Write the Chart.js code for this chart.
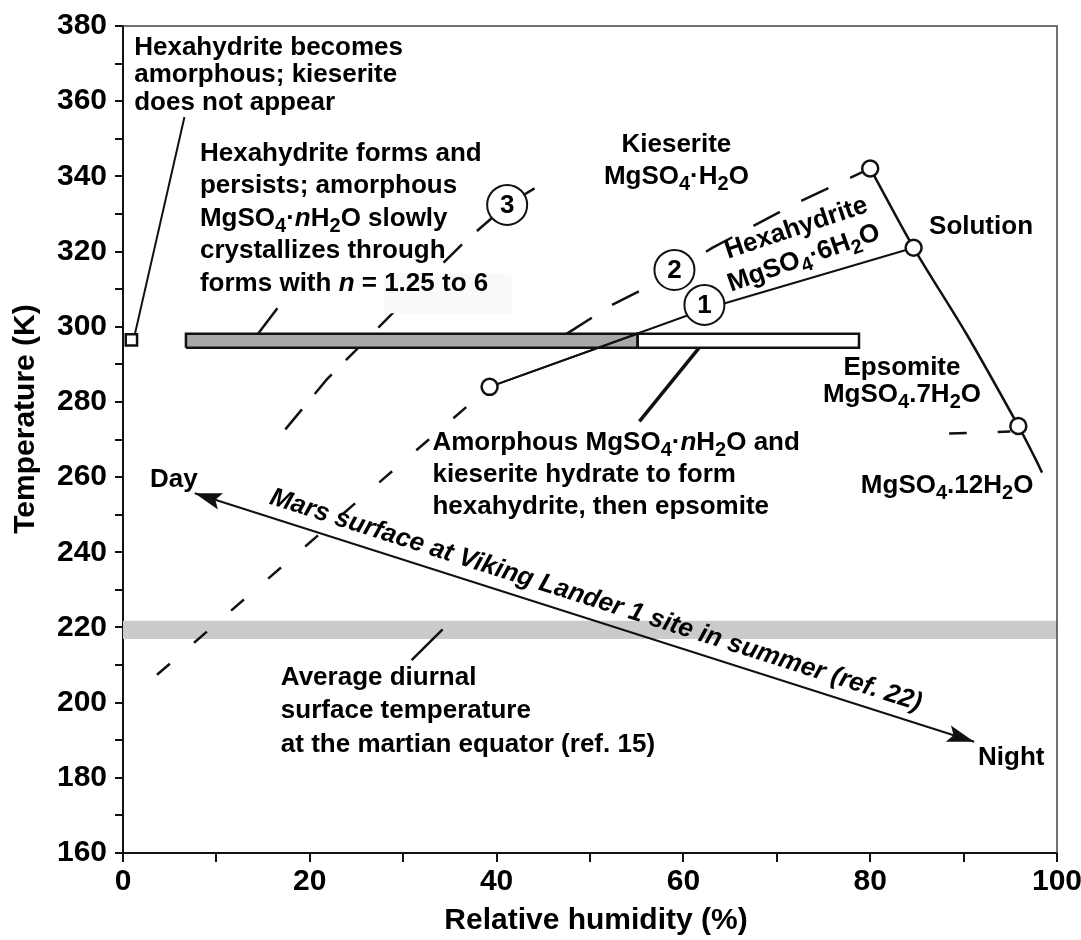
<!DOCTYPE html>
<html>
<head>
<meta charset="utf-8">
<script src="https://cdn.jsdelivr.net/npm/chart.js@4.4.1/dist/chart.umd.min.js"></script>
<style>
  html, body { margin: 0; padding: 0; background: #fff; }
  #wrap { width: 1081px; height: 940px; }
</style>
</head>
<body>
<div id="wrap"><canvas id="chart"></canvas></div>
<script>
// Graduations
const xTicks = [0, 20, 40, 60, 80, 100];
const yTicks = [160, 180, 200, 220, 240, 260, 280, 300, 320, 340, 360, 380];

// Points (humidité relative %, température K)
const squareSample = [{x: 0.9, y: 296.5}];
const phasePoints = [{x: 39.25, y: 284.0}, {x: 80.0, y: 342.1}, {x: 84.65, y: 321.0}, {x: 95.86, y: 273.6}];
const pathMarks = [{x: 62.25, y: 305.8}, {x: 59.04, y: 315.1}, {x: 41.13, y: 332.4}];
const pathNames = ['1', '2', '3'];

const solutionCurve = [{x: 80.0, y: 342.1}, {x: 84.65, y: 321.0}, {x: 90.37, y: 297.8}, {x: 95.86, y: 273.6}, {x: 97.6, y: 265.3}, {x: 98.4, y: 261.2}];
const hexaEpsoLine = [{x: 39.25, y: 284.0}, {x: 62.35, y: 304.7}, {x: 84.65, y: 321.0}];
const kieseriteLine = [{x: 39.25, y: 284.0}, {x: 55.08, y: 298.1}];
const path1Dashed = [{x: 3.64, y: 207.4}, {x: 39.25, y: 284.0}];
const path2Dashed = [{x: 47.49, y: 298.1}, {x: 52.34, y: 305.8}, {x: 56.95, y: 311.6}, {x: 63.04, y: 320.9}, {x: 72.09, y: 332.9}, {x: 80.0, y: 342.1}];
const path3Dashed = [{x: 17.38, y: 272.7}, {x: 21.82, y: 286.0}, {x: 25.03, y: 294.0}, {x: 28.66, y: 303.1}, {x: 36.79, y: 323.1}, {x: 41.13, y: 332.4}, {x: 44.71, y: 337.8}];
const dodecaDashed = [{x: 88.45, y: 271.6}, {x: 95.0, y: 272.1}];
const vikingArrow = [{x: 7.68, y: 255.7}, {x: 91.13, y: 189.6}];

const squareLeader = [{x: 1.28, y: 298.1}, {x: 6.58, y: 355.8}];
const persistLeader = [{x: 13.95, y: 296.5}, {x: 16.53, y: 304.9}];
const amorphLeader = [{x: 55.29, y: 274.8}, {x: 61.74, y: 294.6}];
const equatorLeader = [{x: 30.9, y: 211.3}, {x: 34.22, y: 219.5}];

const barY = [294.4, 298.1];
const grayBarX = [6.74, 55.1];
const whiteBarX = [55.1, 78.8];
const equatorBandY = [216.9, 221.8];
const fadedBoxX = [27.9, 41.6];
const fadedBoxY = [303.6, 314.3];

const FONT = '"Liberation Sans", Arial, sans-serif';
const NOTE_SIZE = 26;

function line(data, extra) {
  return Object.assign({
    data: data, showLine: true, pointRadius: 0, borderColor: '#111',
    borderWidth: 2.5, fill: false, tension: 0, order: 5
  }, extra);
}
function rectFill(xs, ys, color, order) {
  return line([{x: xs[0], y: ys[1]}, {x: xs[1], y: ys[1]}],
    {fill: {value: ys[0]}, backgroundColor: color, borderWidth: 0, order: order});
}
function rectEdge(xs, ys, order) {
  return line([{x: xs[0], y: ys[0]}, {x: xs[1], y: ys[0]}, {x: xs[1], y: ys[1]}, {x: xs[0], y: ys[1]}, {x: xs[0], y: ys[0]}],
    {borderWidth: 2.5, order: order, borderJoinStyle: 'miter'});
}

// Texte avec indices (_4) et italique (*n*)
function segments(str) {
  const segs = [];
  let it = false;
  for (let i = 0; i < str.length; i++) {
    const c = str[i];
    if (c === '*') { it = !it; continue; }
    if (c === '_') { segs.push({t: str[i + 1], sub: true, it: it}); i++; continue; }
    const last = segs[segs.length - 1];
    if (last && !last.sub && last.it === it) last.t += c;
    else segs.push({t: c, sub: false, it: it});
  }
  return segs;
}
function fontFor(s, size) {
  return (s.it ? 'italic ' : '') + 'bold ' + (s.sub ? Math.round(size * 0.75) : size) + 'px ' + FONT;
}
function drawRich(ctx, str, x, y, size, align) {
  const segs = segments(str);
  let w = 0;
  segs.forEach(s => { ctx.font = fontFor(s, size); s.w = ctx.measureText(s.t).width; w += s.w; });
  let cx = align === 'center' ? x - w / 2 : x;
  ctx.textAlign = 'left';
  ctx.textBaseline = 'middle';
  segs.forEach(s => {
    ctx.font = fontFor(s, size);
    ctx.fillText(s.t, cx, y + (s.sub ? size * 0.3 : 0));
    cx += s.w;
  });
}

const notes = [
  {x: 1.2, y: 374.2, lh: 27.5, lines: ['Hexahydrite becomes', 'amorphous; kieserite', 'does not appear']},
  {x: 8.24, y: 346.0, lh: 32.5, lines: ['Hexahydrite forms and', 'persists; amorphous', 'MgSO_4·*n*H_2O slowly', 'crystallizes through', 'forms with *n* = 1.25 to 6']},
  {x: 59.25, y: 348.3, lh: 32, align: 'center', lines: ['Kieserite', 'MgSO_4·H_2O']},
  {x: 86.3, y: 326.5, lines: ['Solution']},
  {x: 83.4, y: 289.0, lh: 27, align: 'center', lines: ['Epsomite', 'MgSO_4.7H_2O']},
  {x: 79.0, y: 257.6, lines: ['MgSO_4.12H_2O']},
  {x: 33.13, y: 269.1, lh: 32, lines: ['Amorphous MgSO_4·*n*H_2O and', 'kieserite hydrate to form', 'hexahydrite, then epsomite']},
  {x: 16.9, y: 206.6, lh: 33.5, lines: ['Average diurnal', 'surface temperature', 'at the martian equator (ref. 15)']},
  {x: 2.89, y: 259.2, lines: ['Day']},
  {x: 91.55, y: 185.3, lines: ['Night']},
  {x: 72.09, y: 326.2, rot: -18.5, align: 'center', lines: ['Hexahydrite']},
  {x: 72.9, y: 318.2, rot: -19.5, align: 'center', lines: ['MgSO_4·6H_2O']}
];

function arrowHead(ctx, tip, from) {
  const a = Math.atan2(tip.y - from.y, tip.x - from.x);
  const L = 27, W = 8.5;
  ctx.save();
  ctx.translate(tip.x, tip.y);
  ctx.rotate(a);
  ctx.beginPath();
  ctx.moveTo(0, 0);
  ctx.lineTo(-L, -W);
  ctx.lineTo(-L * 0.8, 0);
  ctx.lineTo(-L, W);
  ctx.closePath();
  ctx.fillStyle = '#111';
  ctx.fill();
  ctx.restore();
}

const decor = {
  id: 'decor',
  afterDatasetsDraw(chart) {
    const {ctx, chartArea: a, scales: {x, y}} = chart;
    ctx.save();
    // cadre haut et droit
    ctx.strokeStyle = '#444';
    ctx.lineWidth = 1.5;
    ctx.beginPath();
    ctx.moveTo(a.left, a.top);
    ctx.lineTo(a.right, a.top);
    ctx.lineTo(a.right, a.bottom);
    ctx.stroke();

    // flèches Viking
    const p0 = {x: x.getPixelForValue(vikingArrow[0].x), y: y.getPixelForValue(vikingArrow[0].y)};
    const p1 = {x: x.getPixelForValue(vikingArrow[1].x), y: y.getPixelForValue(vikingArrow[1].y)};
    arrowHead(ctx, p0, p1);
    arrowHead(ctx, p1, p0);

    ctx.fillStyle = '#000';
    // texte le long de la flèche
    const ang = Math.atan2(p1.y - p0.y, p1.x - p0.x);
    ctx.save();
    ctx.translate((p0.x + p1.x) / 2 + 6, (p0.y + p1.y) / 2);
    ctx.rotate(ang);
    ctx.font = 'italic bold 26px ' + FONT;
    ctx.textAlign = 'center';
    ctx.textBaseline = 'middle';
    ctx.fillText('Mars surface at Viking Lander 1 site in summer (ref. 22)', 0, -18);
    ctx.restore();

    // annotations
    notes.forEach(n => {
      const px = x.getPixelForValue(n.x), py = y.getPixelForValue(n.y);
      const lh = n.lh || 30;
      if (n.rot) {
        ctx.save();
        ctx.translate(px, py);
        ctx.rotate(n.rot * Math.PI / 180);
        n.lines.forEach((t, i) => drawRich(ctx, t, 0, i * lh, NOTE_SIZE, n.align));
        ctx.restore();
      } else {
        n.lines.forEach((t, i) => drawRich(ctx, t, px, py + i * lh, NOTE_SIZE, n.align));
      }
    });

    // numéros des chemins
    ctx.font = 'bold 26px ' + FONT;
    ctx.textAlign = 'center';
    ctx.textBaseline = 'middle';
    pathMarks.forEach((p, i) => {
      ctx.fillText(pathNames[i], x.getPixelForValue(p.x), y.getPixelForValue(p.y) + 1);
    });

    // titres des axes
    ctx.font = 'bold 30px ' + FONT;
    ctx.fillText('Relative humidity (%)', (a.left + a.right) / 2 + 6, 921);
    ctx.save();
    ctx.translate(26, 419);
    ctx.rotate(-Math.PI / 2);
    ctx.fillText('Temperature (K)', 0, 0);
    ctx.restore();
    ctx.restore();
  }
};

const tickFont = {family: FONT, size: 30, weight: 'bold'};

new Chart(document.getElementById('chart'), {
  type: 'line',
  data: {
    datasets: [
      rectFill([0, 100], equatorBandY, '#cbcbcb', 20),
      line(path3Dashed, {borderDash: [26, 20], order: 19}),
      rectFill(fadedBoxX, fadedBoxY, '#f9f9f9', 18),
      line(persistLeader, {borderWidth: 2.5, order: 17}),
      line(amorphLeader, {borderWidth: 3.5, order: 17}),
      rectFill(grayBarX, barY, '#a9a9a9', 16),
      rectFill(whiteBarX, barY, '#ffffff', 16),
      rectEdge(grayBarX, barY, 15),
      rectEdge(whiteBarX, barY, 15),
      line(equatorLeader, {order: 6}),
      line(squareLeader, {borderWidth: 2, order: 6}),
      line(path1Dashed, {borderDash: [17, 32], order: 5}),
      line(path2Dashed, {borderDash: [30, 24], order: 5}),
      line(dodecaDashed, {borderDash: [17.6, 31], order: 5}),
      line(solutionCurve, {tension: 0.3, order: 4}),
      line(hexaEpsoLine, {borderWidth: 2, order: 4}),
      line(kieseriteLine, {borderWidth: 2, order: 4}),
      line(vikingArrow, {borderWidth: 2, order: 4}),
      {data: phasePoints, showLine: false, pointRadius: 8, pointStyle: 'circle', pointBackgroundColor: '#fff',
       pointBorderColor: '#111', pointBorderWidth: 2.5, order: 1},
      {data: squareSample, showLine: false, pointRadius: 8, pointStyle: 'rect', pointBackgroundColor: '#fff',
       pointBorderColor: '#111', pointBorderWidth: 2.5, order: 1},
      {data: pathMarks, showLine: false, pointRadius: 20, pointStyle: 'circle', pointBackgroundColor: '#fff',
       pointBorderColor: '#111', pointBorderWidth: 2, order: 0}
    ]
  },
  options: {
    responsive: true,
    maintainAspectRatio: false,
    animation: false,
    events: [],
    layout: {padding: {left: 0, right: 23, top: 26, bottom: 0}},
    plugins: {legend: {display: false}, tooltip: {enabled: false}},
    scales: {
      x: {
        type: 'linear', min: 0, max: 100,
        afterFit: s => { s.height = 87; s.paddingRight = 24; },
        border: {display: true, color: '#111', width: 2},
        grid: {drawOnChartArea: false, drawTicks: true, tickLength: 9, color: '#111', lineWidth: 2},
        ticks: {stepSize: 10, autoSkip: false, maxRotation: 0, color: '#000', font: tickFont, padding: 2,
                callback: v => xTicks.includes(v) ? String(v) : ''}
      },
      y: {
        type: 'linear', min: 160, max: 380,
        afterFit: s => { s.width = 123; },
        border: {display: true, color: '#111', width: 2},
        grid: {drawOnChartArea: false, drawTicks: true, tickLength: 8, color: '#111', lineWidth: 2},
        ticks: {stepSize: 10, autoSkip: false, color: '#000', font: tickFont, padding: 8,
                callback: v => yTicks.includes(v) ? String(v) : ''}
      }
    }
  },
  plugins: [decor]
});
</script>
</body>
</html>
